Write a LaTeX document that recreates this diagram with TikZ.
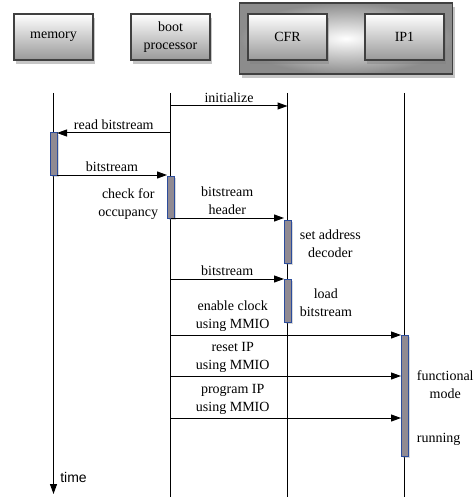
\documentclass[tikz,border=0pt]{standalone}
\usepackage{fontspec}
\setmainfont{Liberation Serif}
\setsansfont{Liberation Sans}
\usepackage{xcolor}
\usetikzlibrary{positioning,arrows.meta,shadows,fit,backgrounds}

\definecolor{actfill}{HTML}{908A92}
\definecolor{actline}{HTML}{2B4C9C}

\begin{document}
\begin{tikzpicture}[x=1pt, y=-1pt, >={Triangle[length=10pt,width=7pt]}, node distance=38pt,
		font=\fontsize{14}{18}\selectfont, line width=1pt,
		actor/.style={draw=black!75, line width=1.2pt, top color=white, bottom color=black!40, minimum width=79pt, minimum height=46pt, outer sep=0pt, align=center, drop shadow={opacity=0.45, shadow xshift=2pt, shadow yshift=-4pt}},
		group/.style={draw=black!75, line width=1.2pt, inner color=white, outer color=black!45, inner xsep=8.5pt, inner ysep=12.5pt, yshift=-1.5pt, drop shadow={opacity=0.45, shadow xshift=2pt, shadow yshift=-4pt}},
		act/.style={draw=actline, fill=actfill, line width=1pt, minimum width=7pt, inner sep=0pt, outer sep=0pt, drop shadow={opacity=0.3, shadow xshift=2pt, shadow yshift=-2pt}},
		note/.style={align=center}]
	\useasboundingbox (0,0) rectangle (474,497);

	\node[actor] (memory) at (53.5,37) {memory};
	\node[actor, right=of memory] (boot) {boot\\processor};
	\node[actor, right=of boot] (cfr) {CFR};
	\node[actor, right=of cfr] (ip) {IP1};
	\begin{scope}[on background layer]
		\node[group, fit=(cfr)(ip)] (fpga) {};
	\end{scope}

	\coordinate[below=33pt of memory] (memtop);
	\coordinate[below=33pt of boot] (boottop);
	\coordinate[below=33pt of cfr] (cfrtop);
	\coordinate[below=33pt of ip] (iptop);
	\coordinate (bottom) at (0,497);

	\draw[->] (memtop) -- ([yshift=-401pt]memtop) node[anchor=south west, xshift=3pt, yshift=8pt, font=\sffamily\fontsize{14}{18}\selectfont] (time) {time};
	\draw (boottop) -- (boottop |- bottom);
	\draw (cfrtop) -- (cfrtop |- bottom);
	\draw (iptop) -- (iptop |- bottom);

	\node[act, minimum height=42pt, below=40pt of memtop] (actM) {};
	\node[act, minimum height=42pt, below=83pt of boottop] (actB) {};
	\node[act, minimum height=43pt, below=127pt of cfrtop] (actC1) {};
	\node[act, minimum height=43pt, below=186pt of cfrtop] (actC2) {};
	\node[act, minimum height=121pt, below=242pt of iptop] (actI) {};

	\draw[->] ([yshift=-13pt]boottop) -- node[above] {initialize} ([yshift=-13pt]cfrtop);
	\draw[->] (boottop |- actM.north) -- node[above] {read bitstream} (actM.north east);
	\draw[->] (actM.south east) -- node[above] {bitstream} (actB.west |- actM.south);
	\draw[->] (boottop |- actB.south) -- node[above, note] {bitstream\\header} (actC1.west |- actB.south);
	\draw[->] (boottop |- actC2.north) -- node[above] {bitstream} (actC2.north west);
	\draw[->] (boottop |- actI.north) -- node[above, note, pos=0.27] {enable clock\\using MMIO} (actI.north west);
	\coordinate (resetend) at ([yshift=-41pt]actI.north west);
	\coordinate (progend) at ([yshift=-83pt]actI.north west);
	\draw[->] (boottop |- resetend) -- node[above, note, pos=0.27] {reset IP\\using MMIO} (resetend);
	\draw[->] (boottop |- progend) -- node[above, note, pos=0.27] {program IP\\using MMIO} (progend);

	\node[note, left=5pt of actB, yshift=-7pt] (occ) {check for\\occupancy};
	\node[note, right=5pt of actC1, yshift=-2pt] (dec) {set address\\decoder};
	\node[note, right=5pt of actC2, yshift=-2.5pt] (load) {load\\bitstream};
	\node[note, right=5pt of actI, yshift=10.5pt] (func) {functional\\mode};
	\node[note, right=5pt of actI, yshift=-44pt] (run) {running};
\end{tikzpicture}
\end{document}
